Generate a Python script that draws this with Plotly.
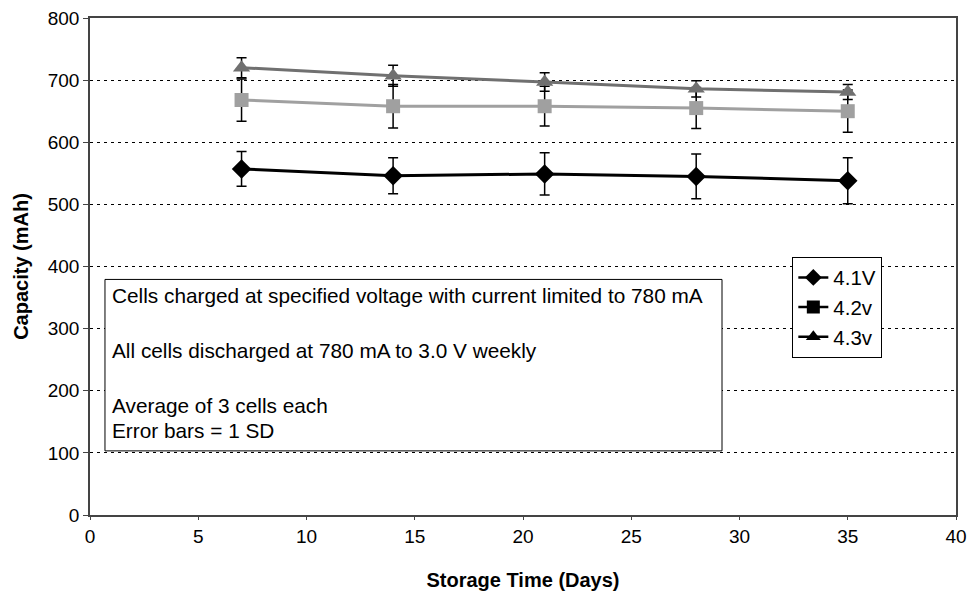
import plotly.graph_objects as go

days = [7, 14, 21, 28, 35]
cap_41 = [557, 546, 549, 545, 538]
sd_41 = [28, 29, 34, 36, 37]
cap_42 = [668, 658, 658, 655, 650]
sd_42 = [34, 35, 32, 33, 34]
cap_43 = [720, 707, 697, 686, 681]
sd_43 = [16, 17, 15, 13, 12]

series = [
    ("4.1V", cap_41, sd_41, "#000000", "diamond", 15),
    ("4.2v", cap_42, sd_42, "#a0a0a0", "square", 14),
    ("4.3v", cap_43, sd_43, "#707070", "triangle-up", 15),
]

note_lines = [
    "Cells charged at specified voltage with current limited to 780 mA",
    "All cells discharged at 780 mA to 3.0 V weekly",
    "Average of 3 cells each",
    "Error bars = 1 SD",
]

FONT = "Liberation Sans, Arial, sans-serif"
fig = go.Figure()

for name, y, sd, color, sym, sz in series:
    fig.add_trace(go.Scatter(
        x=days, y=y, mode="lines+markers", name=name, showlegend=False,
        line=dict(color=color, width=3),
        marker=dict(symbol=sym, size=sz, color=color),
        error_y=dict(type="data", array=sd, visible=True, color="#000000",
                     thickness=1.5, width=5),
    ))

for name, y, sd, color, sym, sz in series:
    fig.add_trace(go.Scatter(
        x=[None], y=[None], mode="lines+markers", name=name,
        line=dict(color="#000000", width=2.5),
        marker=dict(symbol=sym, size=13, color="#000000"),
    ))

# text box
fig.add_shape(type="rect", xref="paper", yref="paper",
              x0=0.0173, x1=0.7298, y0=0.129, y1=0.474,
              line=dict(color="#000000", width=1), fillcolor="white", layer="above")
ys = [0.4415, 0.3306, 0.2198, 0.1694]
for t, yy in zip(note_lines, ys):
    fig.add_annotation(text=t, xref="paper", yref="paper", x=0.0231, y=yy,
                       xanchor="left", yanchor="middle", showarrow=False,
                       font=dict(family=FONT, size=20.8, color="#000000"))

fig.update_layout(
    width=970, height=602,
    margin=dict(l=90, r=14, t=18, b=87),
    paper_bgcolor="white", plot_bgcolor="white",
    font=dict(family=FONT, size=19, color="#000000"),
    showlegend=True,
    legend=dict(x=0.811, y=0.52, xanchor="left", yanchor="top",
                bgcolor="white", bordercolor="#000000", borderwidth=1,
                font=dict(family=FONT, size=20.5), itemwidth=30,
                tracegroupgap=0),
    xaxis=dict(range=[0, 40], dtick=5, showgrid=False, zeroline=False,
               showline=True, linecolor="#444444", linewidth=1.5, mirror=True,
               ticks="outside", ticklen=3, tickcolor="#444444",
               automargin=False,
               title=dict(text="<b>Storage Time (Days)</b>", font=dict(size=20), standoff=27)),
    yaxis=dict(range=[0, 800], dtick=100, showgrid=True, gridcolor="#000000",
               gridwidth=1.3, griddash="3px,4px", zeroline=False,
               showline=True, linecolor="#444444", linewidth=1.5, mirror=True,
               ticks="outside", ticklen=5, tickcolor="#444444",
               automargin=False,
               title=dict(text="<b>Capacity (mAh)</b>", font=dict(size=20), standoff=14)),
)

fig.write_html("out.html", config={"displayModeBar": False},
               post_script="document.body.style.margin='0';document.body.style.overflow='hidden';")
